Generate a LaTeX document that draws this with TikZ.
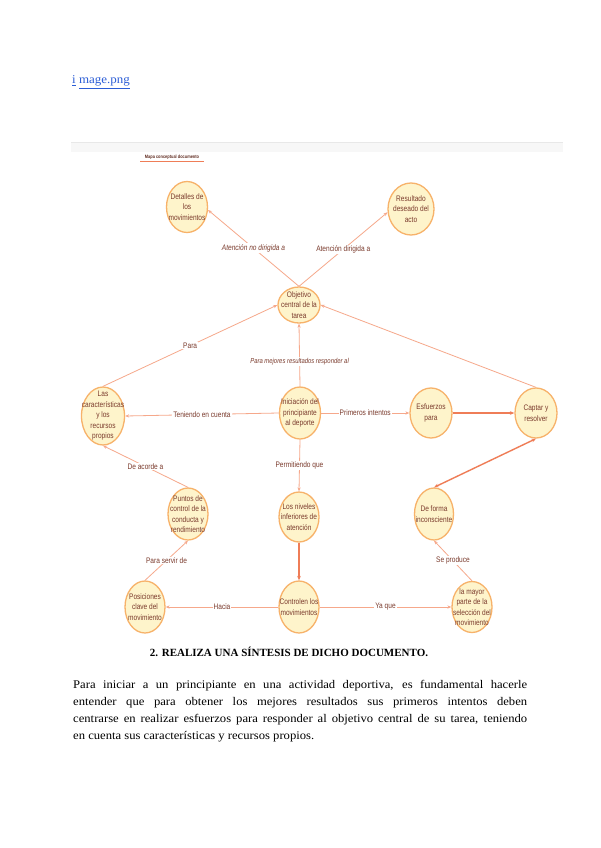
\documentclass[tikz,border=0pt]{standalone}
\usepackage{fontspec}
\setmainfont{Liberation Serif}
\newfontfamily\bodyf[FakeStretch=1.08]{Liberation Serif}
\newfontfamily\mapf[FakeStretch=0.82]{Liberation Sans}
\usetikzlibrary{shapes.geometric,arrows.meta}
\definecolor{nfill}{HTML}{FEF4CB}
\definecolor{nborder}{HTML}{F7B26A}
\definecolor{ntext}{HTML}{7A3A2C}
\definecolor{eline}{HTML}{F6A88B}
\definecolor{ethick}{HTML}{EF7D57}
\definecolor{linkblue}{HTML}{2B5DD6}
\tikzset{
  cnode/.style={ellipse, draw=nborder, fill=nfill, line width=1.3pt, inner sep=0pt},
  ntxt/.style={text=ntext, align=center, inner sep=0pt, font=\mapf\fontsize{8}{10.5}\selectfont},
  conn/.style={draw=eline, line width=0.8pt, -{Stealth[length=4pt,width=3.2pt]}},
  conthick/.style={draw=ethick, line width=1.4pt, -{Stealth[length=4.5pt,width=3.6pt]}},
  lbl/.style={fill=white, inner sep=1pt, text=ntext, font=\mapf\fontsize{8}{9}\selectfont},
  ilbl/.style={lbl, font=\mapf\itshape\fontsize{8}{9}\selectfont}
}
\newcommand{\cn}[5]{\node[cnode, minimum width=#3pt, minimum height=#4pt, label={[ntxt]center:{#5}}] (#1) at #2 {};}
\begin{document}
\begin{tikzpicture}[x=1pt,y=-1pt]
\useasboundingbox (0,0) rectangle (600,848);
\fill[white] (0,0) rectangle (600,848);

% header link
\node[anchor=base west, inner sep=0pt, text=linkblue, font=\bodyf\fontsize{12}{13}\selectfont] (link) at (72,84) {\underline{i} \underline{mage.png}};

% map frame
\fill[gray!6] (71,142) rectangle (563,152);
\draw[gray!18, line width=0.8pt] (71,142) -- (563,142);

% map title
\node[inner sep=0pt, text=ntext!80!black, font=\mapf\bfseries\fontsize{4.8}{5}\selectfont] (title) at (172,157) {Mapa conceptual documento};
\draw[ethick, line width=0.9pt] (140,161) -- (204,161);

% nodes
\cn{det}{(187,207)}{41}{51}{Detalles de\\los\\movimientos}
\cn{res}{(411,209)}{46}{52}{Resultado\\deseado del\\acto}
\cn{obj}{(299,305)}{42}{36}{Objetivo\\central de la\\tarea}
\cn{las}{(103,416)}{43}{58}{Las\\características\\y los\\recursos\\propios}
\cn{ini}{(300,413)}{41}{52}{Iniciación del\\principiante\\al deporte}
\cn{esf}{(431,413)}{42}{50}{Esfuerzos\\para}
\cn{cap}{(536,413)}{42}{50}{Captar y\\resolver}
\cn{pun}{(188,514)}{40}{52}{Puntos de\\control de la\\conducta y\\rendimiento}
\cn{niv}{(299,517)}{40}{50}{Los niveles\\inferiores de\\atención}
\cn{for}{(434,514)}{39}{52}{De forma\\inconsciente}
\cn{pos}{(145,607)}{40}{52}{Posiciones\\clave del\\movimiento}
\cn{con}{(299,607)}{40}{52}{Controlen los\\movimientos}
\cn{may}{(472,607)}{40}{51}{la mayor\\parte de la\\selección del\\movimiento}

% connectors
\draw[conn] (obj.north) -- node[ilbl]{Atención no dirigida a} (det.-8);
\draw[conn] (obj.north) -- node[lbl]{Atención dirigida a} (res.188);
\draw[conn] (las.north) -- node[lbl]{Para} (obj.west);
\draw[conn] (ini.north) -- node[ilbl, pos=0.4, font=\mapf\itshape\fontsize{7.2}{8}\selectfont]{Para mejores resultados responder al} (obj.south);
\draw[conn] (cap.north) -- (obj.east);
\draw[conn] (ini.west) -- node[lbl]{Teniendo en cuenta} (las.east);
\draw[conn] (ini.east) -- node[lbl]{Primeros intentos} (esf.west);
\draw[conthick] (esf.east) -- (cap.west);
\draw[conn] (ini.south) -- node[lbl]{Permitiendo que} (niv.north);
\draw[conthick] (niv.south) -- (con.north);
\draw[conn] (pun.north) -- node[lbl]{De acorde a} (las.south);
\draw[conn] (pos.north) -- node[lbl]{Para servir de} (pun.south);
\draw[conn] (con.west) -- node[lbl]{Hacia} (pos.east);
\draw[conn] (con.east) -- node[lbl]{Ya que} (may.west);
\draw[conn] (may.north) -- node[lbl]{Se produce} (for.south);
\draw[conthick, {Stealth[length=4.5pt,width=3.6pt]}-{Stealth[length=4.5pt,width=3.6pt]}] (cap.south) -- (for.north);

% heading and body text
\node[inner sep=0pt, font=\bfseries\fontsize{11}{12}\selectfont] (head) at (289,652) {2. REALIZA UNA SÍNTESIS DE DICHO DOCUMENTO.};
\node[anchor=base west, inner sep=0pt, font=\bodyf\fontsize{11.7}{17}\selectfont] (body) at (73,688) {\parbox[t]{454pt}{Para iniciar a un principiante en una actividad deportiva, es fundamental hacerle\linebreak entender que para obtener los mejores resultados sus primeros intentos deben\linebreak centrarse en realizar esfuerzos para responder al objetivo central de su tarea, teniendo\linebreak en cuenta sus características y recursos propios.}};
\end{tikzpicture}
\end{document}
